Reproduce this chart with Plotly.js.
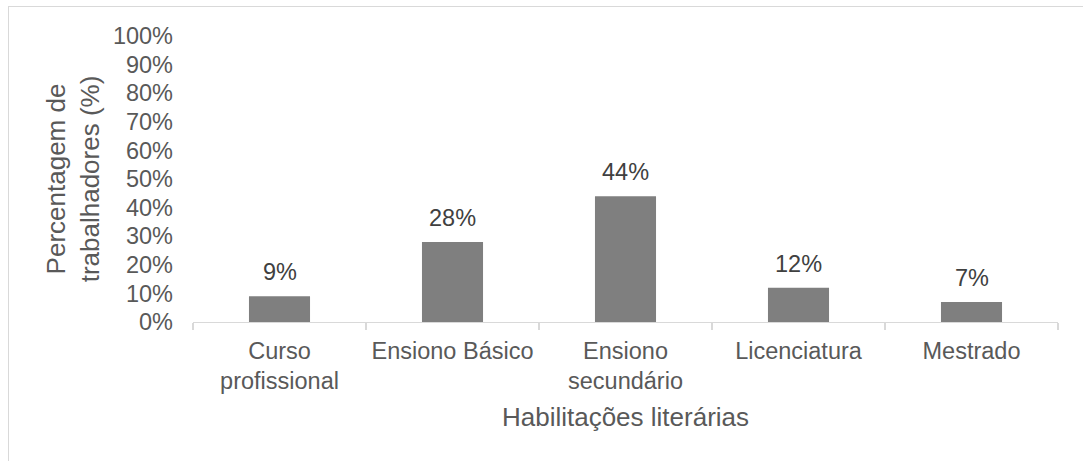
<!DOCTYPE html>
<html>
<head>
<meta charset="utf-8">
<script src="https://cdn.plot.ly/plotly-3.0.1.min.js"></script>
<style>
  html, body { margin: 0; padding: 0; width: 1083px; height: 461px; overflow: hidden; background: #ffffff; }
  #frame { position: absolute; left: 8px; top: 6px; width: 1100px; height: 500px; border: 1px solid #d9d9d9; box-sizing: border-box; }
  #chart { position: absolute; left: 0; top: 0; width: 1083px; height: 461px; }
</style>
</head>
<body>
<div id="frame"></div>
<div id="chart"></div>
<script>
const categories = ["Curso<br>profissional", "Ensiono Básico", "Ensiono<br>secundário", "Licenciatura", "Mestrado"];
const values = [9, 28, 44, 12, 7];
const valueLabels = ["9%", "28%", "44%", "12%", "7%"];
const yTickValues = [0, 10, 20, 30, 40, 50, 60, 70, 80, 90, 100];
const yTickLabels = ["0%", "10%", "20%", "30%", "40%", "50%", "60%", "70%", "80%", "90%", "100%"];
const xTitle = "Habilitações literárias";
const yTitle = "Percentagem de<br>trabalhadores (%)";

const FONT = "Liberation Sans, Arial, sans-serif";

const trace = {
  type: "bar",
  x: categories,
  y: values,
  marker: { color: "#7f7f7f" },
  width: 0.353,
  hoverinfo: "none"
};

const annotations = categories.map((c, i) => ({
  x: c, y: values[i], xref: "x", yref: "y",
  text: valueLabels[i], showarrow: false,
  yanchor: "bottom", yshift: 9,
  font: { family: FONT, size: 23.5, color: "#404040" }
}));

const layout = {
  width: 1083, height: 461,
  margin: { l: 193, r: 25, t: 36, b: 139 },
  paper_bgcolor: "rgba(0,0,0,0)",
  plot_bgcolor: "rgba(0,0,0,0)",
  showlegend: false,
  bargap: 0.647,
  font: { family: FONT, color: "#595959" },
  xaxis: {
    type: "category",
    showline: true, linecolor: "#d9d9d9", linewidth: 1.3,
    ticks: "outside", tickson: "boundaries", ticklen: 7, tickcolor: "#d9d9d9", tickwidth: 1.3,
    tickfont: { family: FONT, size: 23.5, color: "#595959" },
    ticklabelstandoff: 7,
    showgrid: false, zeroline: false,
    title: { text: xTitle, font: { family: FONT, size: 26, color: "#595959" }, standoff: 14 },
    automargin: false
  },
  yaxis: {
    range: [0, 100],
    tickvals: yTickValues, ticktext: yTickLabels,
    showline: false, ticks: "", showgrid: false, zeroline: false,
    tickfont: { family: FONT, size: 23.5, color: "#595959" },
    ticklabelstandoff: 19,
    title: { text: yTitle, font: { family: FONT, size: 26, color: "#595959" }, standoff: 5 },
    automargin: false
  },
  annotations: annotations
};

Plotly.newPlot("chart", [trace], layout, { displayModeBar: false, staticPlot: true });
</script>
</body>
</html>
